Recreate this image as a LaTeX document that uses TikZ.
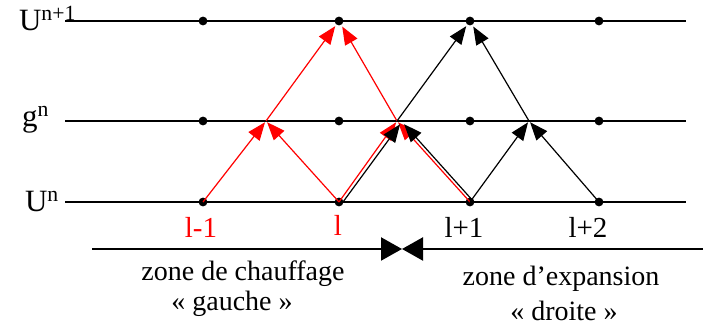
\documentclass[tikz,border=0pt]{standalone}
\usepackage{fontspec}
\setmainfont{Liberation Serif}
\usetikzlibrary{arrows.meta, calc}

\begin{document}
\begin{tikzpicture}[x=0.5pt,y=-0.5pt,>={Triangle[length=9pt,width=7pt]},font=\fontsize{14.5}{16}\selectfont]
\tikzset{
  dotstyle/.style={black,fill=black,draw=none,circle,minimum size=4.4pt,inner sep=0pt},
  rowline/.style={black,line width=1.1pt},
  redarrow/.style={->,red,line width=0.6pt,shorten >=0.8pt},
  blackarrow/.style={->,black,line width=0.6pt,shorten >=0.8pt},
  rowlabel/.style={anchor=base west,font=\fontsize{15.5}{17}\selectfont},
  zonetext/.style={anchor=base,font=\fontsize{14}{16}\selectfont},
  bigtip/.style={line width=1.1pt,-{Triangle[length=10.5pt,width=11.5pt]}}
}
\useasboundingbox (0,0) rectangle (703,325);

% three time levels
\foreach \row/\y in {top/21,mid/121,bot/202}{
  \coordinate (\row-start) at (65,\y);
  \coordinate (\row-end) at (686,\y);
  \draw[rowline] (\row-start) -- (\row-end);
  % mesh points
  \foreach \i/\x in {1/203,2/339,3/470,4/599}{
    \node[dotstyle] (\row\i) at (\x,\y) {};
  }
}

% row labels
\node[rowlabel] (labtop) at (12,31) {U\textsuperscript{n+1}};
\node[rowlabel] (labmid) at (15,127) {g\textsuperscript{n}};
\node[rowlabel] (labbot) at (18,212) {U\textsuperscript{n}};

% interfaces on g^n
\coordinate (ia) at (266,121);
\coordinate (ib) at (397,121);
\coordinate (ic) at (529,121);

% red stencil (left)
\draw[redarrow] (bot1.center) -- (ia);
\draw[redarrow] (bot2.center) -- (ia);
\draw[redarrow] (ia) -- (top2);
\draw[redarrow] (ib) -- (top2);
\draw[redarrow] (bot2.center) -- (ib);
\draw[redarrow] (bot3.center) -- (ib);

% black stencil (right)
\draw[blackarrow] ([xshift=2pt]bot2.center) -- ([xshift=2pt,yshift=-1pt]ib);
\draw[blackarrow] ([xshift=2pt]bot3.center) -- ([xshift=3pt,yshift=-1pt]ib);
\draw[blackarrow] (ib) -- (top3);
\draw[blackarrow] (ic) -- (top3);
\draw[blackarrow] (bot3.center) -- (ic);
\draw[blackarrow] (bot4.center) -- (ic);

% cell indices
\node[red,anchor=base] (idx1) at (201,238) {l-1};
\node[red,anchor=base] (idx2) at (338,236) {l};
\node[anchor=base] (idx3) at (464,238) {l+1};
\node[anchor=base] (idx4) at (588,238) {l+2};

% zones
\coordinate (zleft) at (92,249);
\coordinate (zright) at (703,249);
\coordinate (zmid) at (402,249);
\draw[bigtip] (zleft) -- (zmid);
\draw[bigtip] (zright) -- (zmid);

\node[zonetext] (zoneL) at (243,281) {zone de chauffage};
\node[zonetext] (zoneLb) at (232,311) {«~gauche~»};
\node[zonetext] (zoneR) at (561,286) {zone d’expansion};
\node[zonetext] (zoneRb) at (564,321) {«~droite~»};
\end{tikzpicture}
\end{document}
